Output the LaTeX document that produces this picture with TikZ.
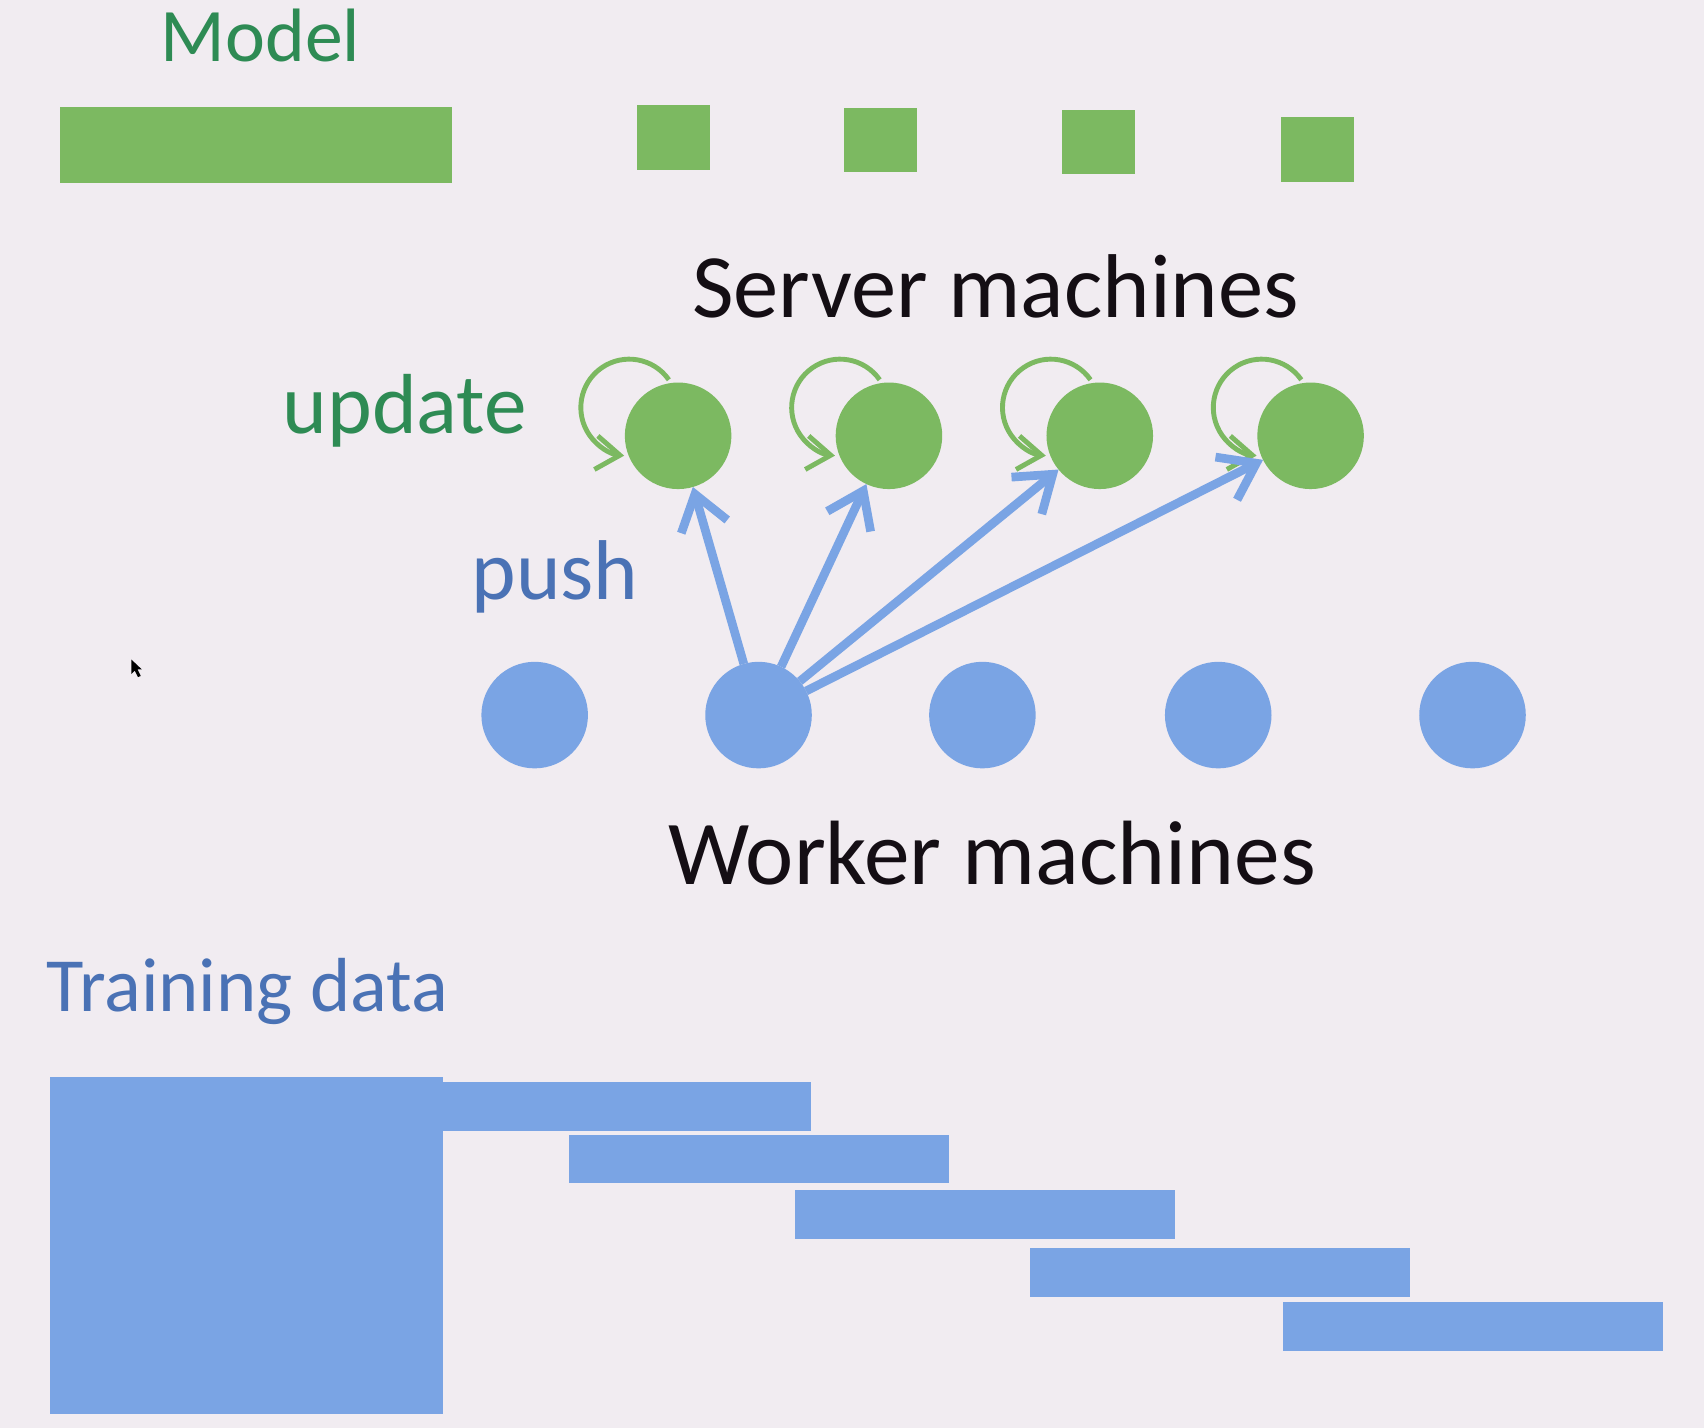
\documentclass[tikz,border=0pt]{standalone}
\usepackage{fontspec}
\setmainfont{Carlito}
\usetikzlibrary{arrows.meta}
\definecolor{bg}{RGB}{241,236,241}
\definecolor{gfill}{RGB}{124,185,97}
\definecolor{gtext}{RGB}{46,139,84}
\definecolor{bfill}{RGB}{122,164,228}
\definecolor{btext}{RGB}{74,114,181}
\definecolor{ktext}{RGB}{20,14,20}
\tikzset{
  gblock/.style={fill=gfill, draw=none, inner sep=0pt, outer sep=0pt, anchor=north west},
  bblock/.style={fill=bfill, draw=none, inner sep=0pt, outer sep=0pt, anchor=north west},
  srv/.style={circle, fill=gfill, draw=none, minimum size=0.98cm, inner sep=0pt, outer sep=0pt},
  wrk/.style={circle, fill=bfill, draw=none, minimum size=0.98cm, inner sep=0pt, outer sep=0pt},
  lbl/.style={inner sep=0pt, outer sep=0pt, anchor=base west},
  pusharr/.style={draw=bfill, line width=0.08cm, -{Straight Barb[length=0.31cm,width=0.44cm]}},
  loopst/.style={draw=gfill, line width=0.045cm, -{Straight Barb[length=0.22cm,width=0.31cm]}}
}
\begin{document}
\begin{tikzpicture}[x=0.01cm,y=0.01cm]
\fill[bg] (0,0) rectangle (1568,-1314);
\useasboundingbox (0,0) rectangle (1568,-1314);

% model blocks
\node[gblock, minimum width=3.61cm, minimum height=0.70cm] (mbig) at (55,-98) {};
\node[gblock, minimum width=0.67cm, minimum height=0.59cm] (m1) at (586,-97) {};
\node[gblock, minimum width=0.67cm, minimum height=0.59cm] (m2) at (777,-99) {};
\node[gblock, minimum width=0.67cm, minimum height=0.59cm] (m3) at (977,-101) {};
\node[gblock, minimum width=0.67cm, minimum height=0.59cm] (m4) at (1179,-108) {};

% texts
\node[lbl, text=gtext, font=\fontsize{19.8}{24}\selectfont] (tmodel) at (148,-57) {Model};
\node[lbl, text=ktext, font=\fontsize{23.7}{28}\selectfont] (tserver) at (637,-292) {Server machines};
\node[lbl, text=gtext, font=\fontsize{22.3}{27}\selectfont] (tupdate) at (260,-399) {update};
\node[lbl, text=btext, font=\fontsize{22.2}{27}\selectfont] (tpush) at (434,-552) {push};
\node[lbl, text=ktext, font=\fontsize{23.9}{29}\selectfont] (tworker) at (615,-814) {Worker machines};
\node[lbl, text=btext, font=\fontsize{20.05}{24}\selectfont] (ttrain) at (43,-931) {Training data};

% server machines
\node[srv] (s1) at (624,-401) {};
\node[srv] (s2) at (818,-401) {};
\node[srv] (s3) at (1012,-401) {};
\node[srv] (s4) at (1206,-401) {};

% self loops (update)
\foreach \s in {s1,s2,s3,s4}{
  \draw[loopst] ([shift={(-45,26)}]\s.center) ++(35:0.445cm) arc[start angle=35, end angle=264, radius=0.445cm];
}

% worker machines
\node[wrk] (w1) at (492,-658) {};
\node[wrk] (w2) at (698,-658) {};
\node[wrk] (w3) at (904,-658) {};
\node[wrk] (w4) at (1121,-658) {};
\node[wrk] (w5) at (1355,-658) {};

% push arrows
\draw[pusharr] (w2) -- (s1);
\draw[pusharr] (w2) -- (s2);
\draw[pusharr] (w2) -- (s3);
\draw[pusharr] (w2) -- (s4);

% training data
\node[bblock, minimum width=3.61cm, minimum height=3.10cm] (dbig) at (46,-991) {};
\node[bblock, minimum width=3.39cm, minimum height=0.45cm] (d1) at (407,-996) {};
\node[bblock, minimum width=3.49cm, minimum height=0.45cm] (d2) at (524,-1044) {};
\node[bblock, minimum width=3.49cm, minimum height=0.45cm] (d3) at (732,-1095) {};
\node[bblock, minimum width=3.49cm, minimum height=0.45cm] (d4) at (948,-1148) {};
\node[bblock, minimum width=3.49cm, minimum height=0.45cm] (d5) at (1181,-1198) {};

% mouse cursor
\fill[black] (121,-607) -- (121,-620) -- (124,-617) -- (127,-623) -- (129.5,-622) -- (126.5,-616) -- (130.5,-616) -- cycle;
\end{tikzpicture}
\end{document}
